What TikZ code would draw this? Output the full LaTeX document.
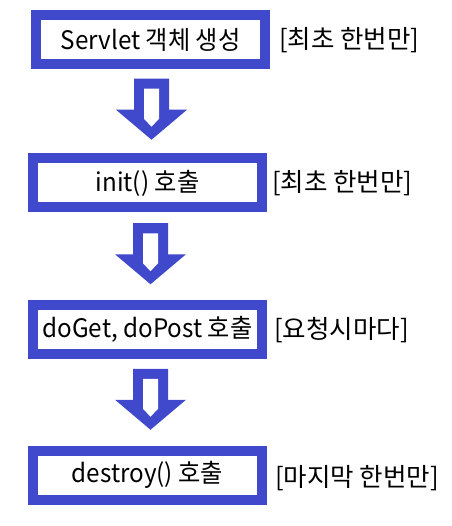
\documentclass[tikz,border=0pt]{standalone}
\usepackage{fontspec}
\setmainfont{Noto Sans CJK KR}
\newfontfamily\boxfont[FakeStretch=0.95]{Noto Sans CJK KR}
\usetikzlibrary{calc}
\definecolor{boxblue}{RGB}{64,72,204}
\begin{document}
\begin{tikzpicture}[x=1pt,y=-1pt,
  stepbox/.style={draw=boxblue,line width=10pt,fill=white,minimum width=229pt,minimum height=49pt,inner sep=0pt,font=\boxfont\fontsize{25.5}{28}\selectfont},
  note/.style={anchor=west,inner sep=0pt,font=\fontsize{25.5}{28}\selectfont},
  downarrow/.pic={
    \fill[boxblue] (-17.5,-30.5) -- (17.5,-30.5) -- (17.5,0.5) -- (35.5,0.5) -- (0,30.5) -- (-35.5,0.5) -- (-17.5,0.5) -- cycle;
    \fill[white] (-7.5,-20.5) -- (7.5,-20.5) -- (7.5,9.5) -- (0,17.5) -- (-7.5,9.5) -- cycle;
  }]
\useasboundingbox (0,0) rectangle (451,526);
\node[stepbox] (b1) at (150.5,39.5) {Servlet 객체 생성};
\node[stepbox] (b2) at (147.5,183) {init() 호출};
\node[stepbox] (b3) at (147.5,329.5) {doGet, doPost 호출};
\node[stepbox] (b4) at (147.5,475) {destroy() 호출};
\node[note] (n1) at (279,40) {[최초 한번만]};
\node[note] (n2) at (272,183) {[최초 한번만]};
\node[note] (n3) at (274,330) {[요청시마다]};
\node[note] (n4) at (275,478) {[마지막 한번만]};
\coordinate (a1) at ($(b1.south)!.5!(b2.north)+(2.5,-2)$);
\coordinate (a2) at ($(b2.south)!.5!(b3.north)+(3,-2.5)$);
\coordinate (a3) at ($(b3.south)!.5!(b4.north)+(3,-3)$);
\pic at (a1) {downarrow};
\pic at (a2) {downarrow};
\pic at (a3) {downarrow};
\end{tikzpicture}
\end{document}
